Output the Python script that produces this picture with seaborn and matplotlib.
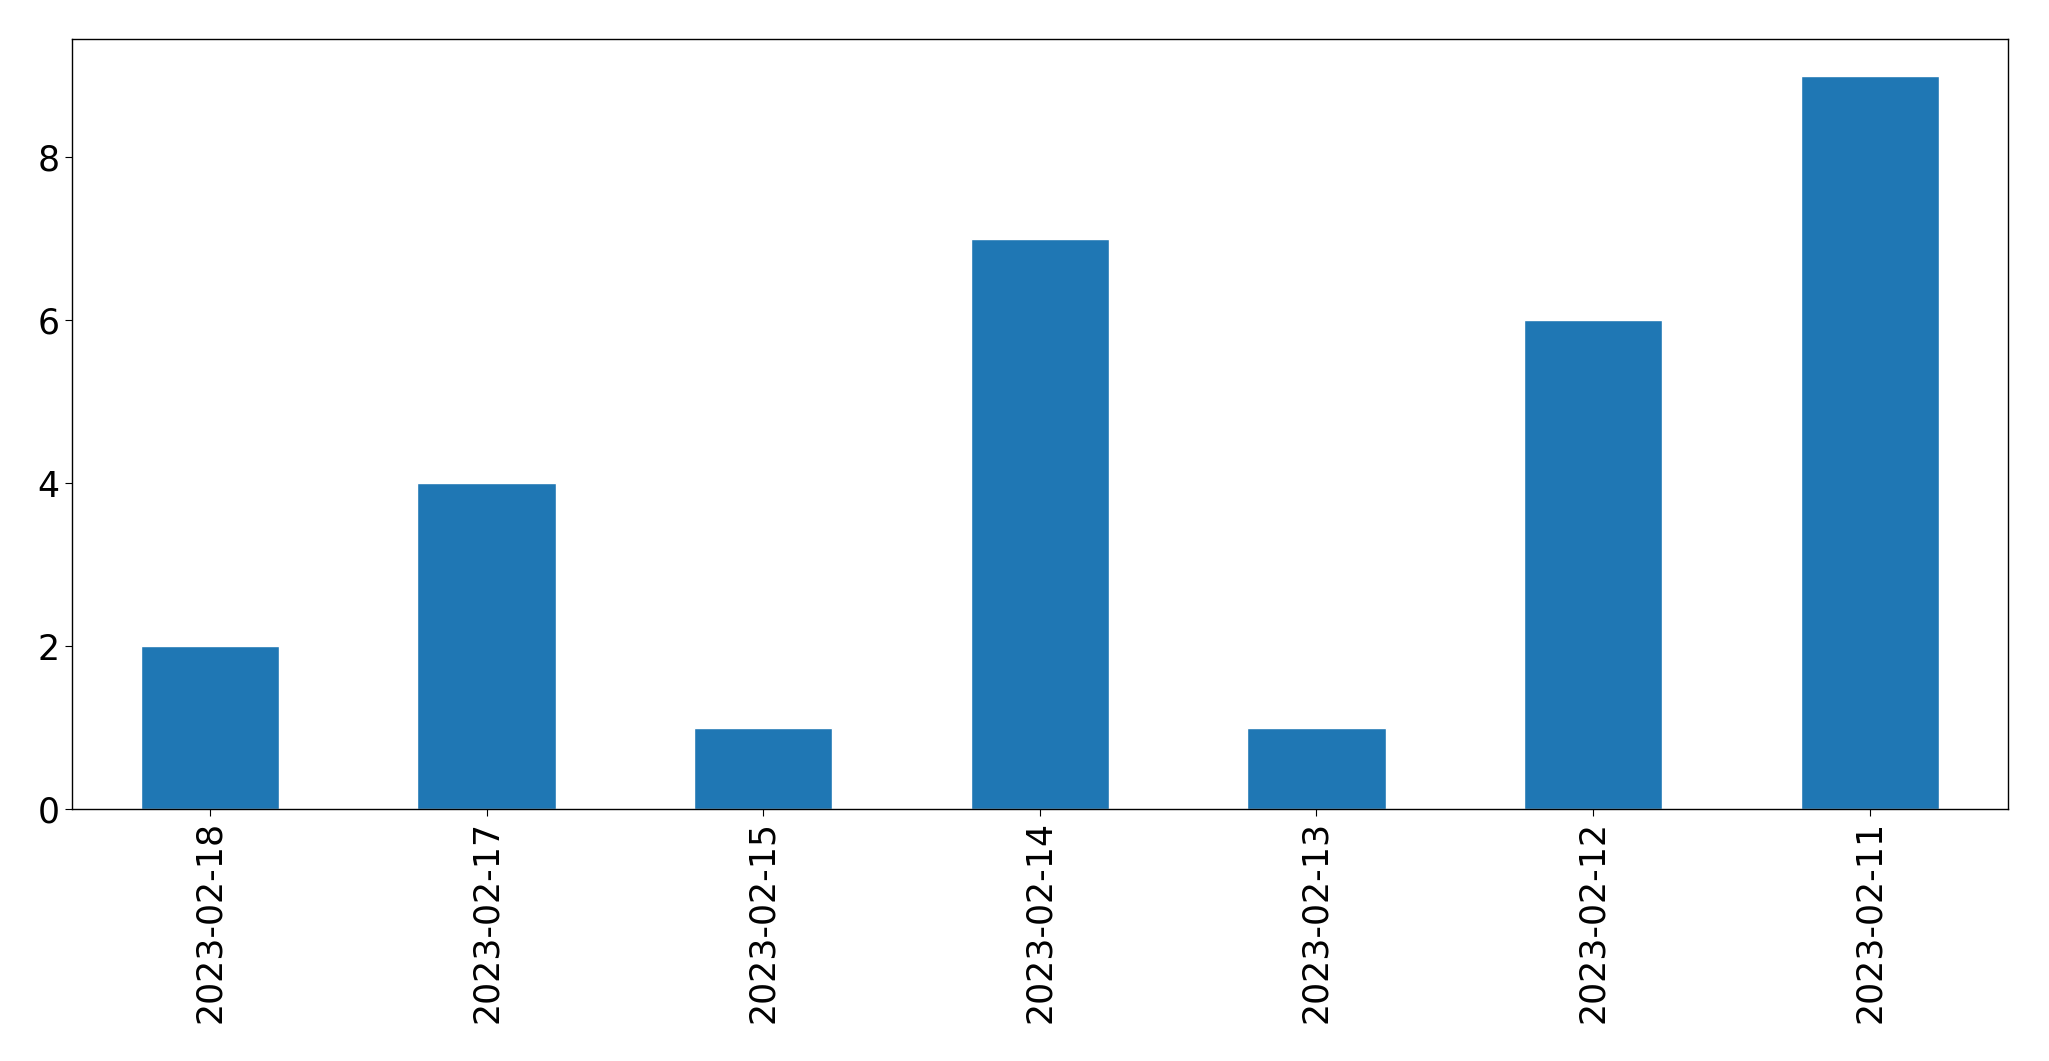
import matplotlib
matplotlib.use('Agg')
import matplotlib.pyplot as plt
import seaborn as sns
import pandas as pd

# --- Data ---
dates = ['2023-02-18', '2023-02-17', '2023-02-15', '2023-02-14',
         '2023-02-13', '2023-02-12', '2023-02-11']
counts = [2, 4, 1, 7, 1, 6, 9]

df = pd.DataFrame({'date': dates, 'count': counts})

sns.set_style('ticks')
plt.rcParams['font.family'] = ['DejaVu Sans']

fig = plt.figure(figsize=(20.49, 10.61), dpi=100)
ax = fig.add_axes([0.035, 0.2375, 0.945, 0.7255])

sns.barplot(data=df, x='date', y='count', color='#1f77b4',
            saturation=1, width=0.5, ax=ax)

ax.set_xlim(-0.5, len(dates) - 0.5)
ax.set_ylim(0, max(counts) * 1.05)
ax.set_xlabel('')
ax.set_ylabel('')
ax.tick_params(axis='both', labelsize=25, length=5, colors='black')
ax.tick_params(axis='x', labelrotation=90)
for side in ['top', 'right', 'left', 'bottom']:
    ax.spines[side].set_visible(True)
    ax.spines[side].set_linewidth(1)
    ax.spines[side].set_color('black')

fig.savefig('out.png', dpi=100)
